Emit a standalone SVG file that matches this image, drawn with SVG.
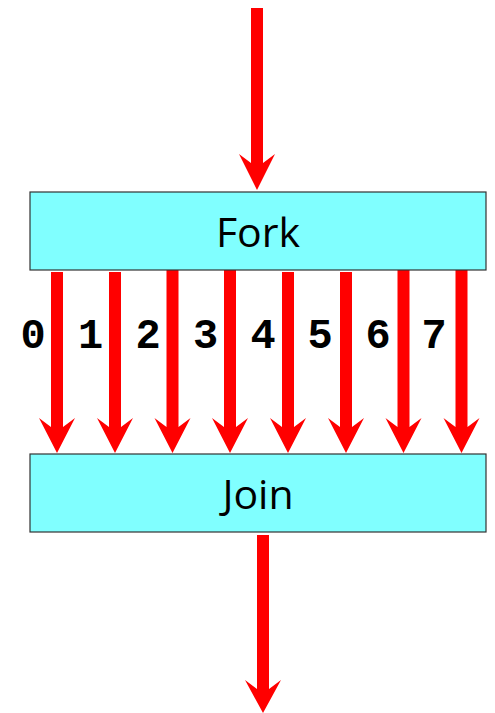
<svg xmlns="http://www.w3.org/2000/svg" width="495" height="713" viewBox="0 0 495 713">
<defs>
<style>
.box{fill:#80FFFF;stroke:#333333;stroke-width:1.2}
.lbl{font-family:"Open Sans","DejaVu Sans",sans-serif;font-size:41px;fill:#000;text-anchor:middle}
.num{font-family:"Liberation Mono","Courier New",monospace;font-weight:bold;font-size:42px;fill:#000;text-anchor:middle}
.arr{fill:#FF0000}
</style>
<path id="a" d="M-6.2,0 V-26 L-17.5,-35 L0,0 Z"/>
</defs>
<rect width="495" height="713" fill="#fff"/>
<g id="connectors" class="arr">
<polygon points="251,8 263,8 263,163 275,154 257,190 239,154 251,163"/>
<polygon points="257,535 269,535 269,689 281,680 263,713 245,680 257,689"/>
<g id="branches">
<polygon transform="translate(57,0)" points="-6,272 6,272 6,427 18,418 0,453 -18,418 -6,427"/>
<polygon transform="translate(115,0)" points="-6,272 6,272 6,427 18,418 0,453 -18,418 -6,427"/>
<polygon transform="translate(172.5,0)" points="-6,270 6,270 6,427 18,418 0,453 -18,418 -6,427"/>
<polygon transform="translate(230,0)" points="-6,270 6,270 6,427 18,418 0,453 -18,418 -6,427"/>
<polygon transform="translate(288,0)" points="-6,272 6,272 6,427 18,418 0,453 -18,418 -6,427"/>
<polygon transform="translate(346,0)" points="-6,272 6,272 6,427 18,418 0,453 -18,418 -6,427"/>
<polygon transform="translate(403.5,0)" points="-6,269 6,269 6,427 18,418 0,453 -18,418 -6,427"/>
<polygon transform="translate(461.5,0)" points="-6,269 6,269 6,427 18,418 0,453 -18,418 -6,427"/>
</g>
</g>
<g id="labels">
<text class="num" x="33" y="348">0</text>
<text class="num" x="90.5" y="348">1</text>
<text class="num" x="148" y="348">2</text>
<text class="num" x="205.5" y="348">3</text>
<text class="num" x="263" y="348">4</text>
<text class="num" x="320" y="348">5</text>
<text class="num" x="378" y="348">6</text>
<text class="num" x="434" y="348">7</text>
</g>
<g id="fork">
<rect class="box" x="30" y="192" width="456" height="78"/>
<text class="lbl" x="258" y="247">Fork</text>
</g>
<g id="join">
<rect class="box" x="30" y="454" width="456" height="78"/>
<text class="lbl" x="258" y="509">Join</text>
</g>
</svg>
